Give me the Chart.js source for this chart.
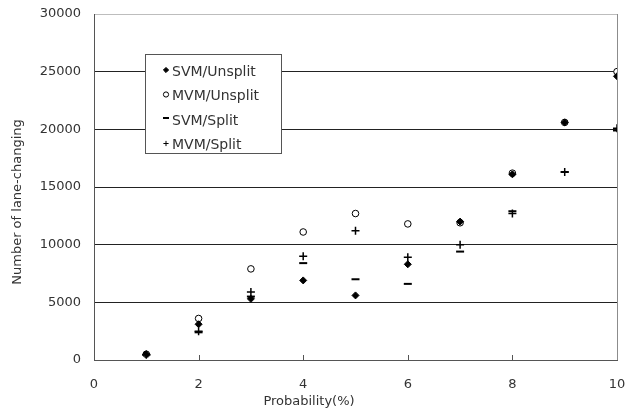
<!DOCTYPE html>
<html>
<head>
<meta charset="utf-8">
<script src="https://cdn.jsdelivr.net/npm/chart.js@4"></script>
<style>
  html, body { margin: 0; padding: 0; background: #fff; }
  #wrap { width: 639px; height: 418px; position: relative; }
</style>
</head>
<body>
<div id="wrap"><canvas id="laneChart"></canvas></div>
<script>
// values
const probability = [1, 2, 3, 4, 5, 6, 7, 8, 9, 10];
const svmUnsplit = [500, 3100, 5300, 6900, 5600, 8300, 12000, 16100, 20600, 24600];
const mvmUnsplit = [500, 3600, 7900, 11100, 12700, 11800, 11900, 16200, 20600, 25000];
const svmSplit   = [450, 2400, 5500, 8400, 7000, 6600, 9400, 12900, 16300, 19900];
const mvmSplit   = [450, 2500, 5900, 9000, 11200, 8900, 10000, 12700, 16300, 20100];
const seriesNames = ['SVM/Unsplit', 'MVM/Unsplit', 'SVM/Split', 'MVM/Split'];
const xTicks = [0, 2, 4, 6, 8, 10];
const yTicks = [0, 5000, 10000, 15000, 20000, 25000, 30000];

const FONT = "'DejaVu Sans', sans-serif";

function toPoints(values) {
  return probability.map((p, i) => ({ x: p, y: values[i] }));
}

const markerStyles = [
  { pointStyle: 'rectRot', radius: 3.5, fill: '#000', border: 1 },
  { pointStyle: 'circle', radius: 3.3, fill: '#fff', border: 1 },
  { pointStyle: 'line', radius: 4, fill: '#000', border: 2 },
  { pointStyle: 'cross', radius: 4, fill: '#000', border: 1.5 }
];

const datasets = [svmUnsplit, mvmUnsplit, svmSplit, mvmSplit].map((vals, i) => ({
  label: seriesNames[i],
  data: toPoints(vals),
  pointStyle: markerStyles[i].pointStyle,
  pointRadius: markerStyles[i].radius,
  pointHoverRadius: markerStyles[i].radius,
  backgroundColor: markerStyles[i].fill,
  borderColor: '#000',
  pointBorderWidth: markerStyles[i].border,
  showLine: false
}));

// frame, inner ticks, titles and the boxed legend
const decorPlugin = {
  id: 'decor',
  afterDraw(chart) {
    const { ctx, chartArea: a, scales } = chart;
    ctx.save();
    // right border
    ctx.strokeStyle = '#8c8c8c';
    ctx.lineWidth = 1;
    ctx.beginPath();
    ctx.moveTo(a.right + 0.5, a.top);
    ctx.lineTo(a.right + 0.5, a.bottom);
    ctx.stroke();

    // little tick marks pointing into the plot
    ctx.strokeStyle = '#555';
    xTicks.forEach(v => {
      if (v === 0 || v === 10) return;
      const px = Math.round(scales.x.getPixelForValue(v)) + 0.5;
      ctx.beginPath();
      ctx.moveTo(px, a.bottom);
      ctx.lineTo(px, a.bottom - 5);
      ctx.stroke();
    });

    // axis titles
    ctx.fillStyle = '#333';
    ctx.font = '13px ' + FONT;
    ctx.textAlign = 'center';
    ctx.textBaseline = 'middle';
    ctx.fillText('Probability(%)', 309, 402);
    ctx.save();
    ctx.translate(18, 202);
    ctx.rotate(-Math.PI / 2);
    ctx.fillText('Number of lane-changing', 0, 0);
    ctx.restore();

    // legend box
    const bx = 145.5, by = 54.5, bw = 136, bh = 99;
    ctx.fillStyle = '#fff';
    ctx.fillRect(bx, by, bw, bh);
    ctx.strokeStyle = '#555';
    ctx.strokeRect(bx, by, bw, bh);
    ctx.font = '14px ' + FONT;
    ctx.textAlign = 'left';
    chart.data.datasets.forEach((ds, i) => {
      const ry = 72 + i * 24.5;
      ctx.fillStyle = ds.backgroundColor;
      ctx.strokeStyle = '#000';
      ctx.lineWidth = i === 2 ? 2 : 1;
      Chart.helpers.drawPoint(ctx, {
        pointStyle: ds.pointStyle,
        radius: i === 2 ? 3 : 2.6,
        rotation: 0,
        borderWidth: ctx.lineWidth
      }, 166, i === 2 ? ry - 3 : ry - 2);
      ctx.fillStyle = '#333';
      ctx.fillText(ds.label, 172, ry);
    });
    ctx.restore();
  }
};

new Chart(document.getElementById('laneChart'), {
  type: 'scatter',
  data: { datasets: datasets },
  plugins: [decorPlugin],
  options: {
    responsive: true,
    maintainAspectRatio: false,
    animation: false,
    events: [],
    layout: { padding: { top: 14, right: 22, left: 0, bottom: 0 } },
    plugins: {
      legend: { display: false },
      tooltip: { enabled: false }
    },
    scales: {
      x: {
        type: 'linear',
        min: 0,
        max: 10,
        afterBuildTicks: scale => { scale.ticks = xTicks.map(v => ({ value: v })); },
        afterFit: scale => {
          scale.height = 58;
          scale.paddingLeft = 0;
          scale.paddingRight = 0;
        },
        grid: { display: false, drawTicks: false },
        border: { display: true, color: '#555', width: 1 },
        ticks: { color: '#333', padding: 17, font: { family: FONT, size: 13 }, callback: v => String(v) }
      },
      y: {
        type: 'linear',
        min: 0,
        max: 30000,
        afterBuildTicks: scale => { scale.ticks = yTicks.map(v => ({ value: v })); },
        afterFit: scale => {
          scale.width = 94;
          scale.paddingTop = 0;
          scale.paddingBottom = 0;
        },
        grid: {
          drawTicks: false,
          color: ctx => (ctx.tick && ctx.tick.value === 30000) ? '#bdbdbd' : '#222',
          lineWidth: 1
        },
        border: { display: true, color: '#555', width: 1 },
        ticks: { color: '#333', padding: 13, font: { family: FONT, size: 13 }, callback: v => String(v) }
      }
    }
  }
});
</script>
</body>
</html>
